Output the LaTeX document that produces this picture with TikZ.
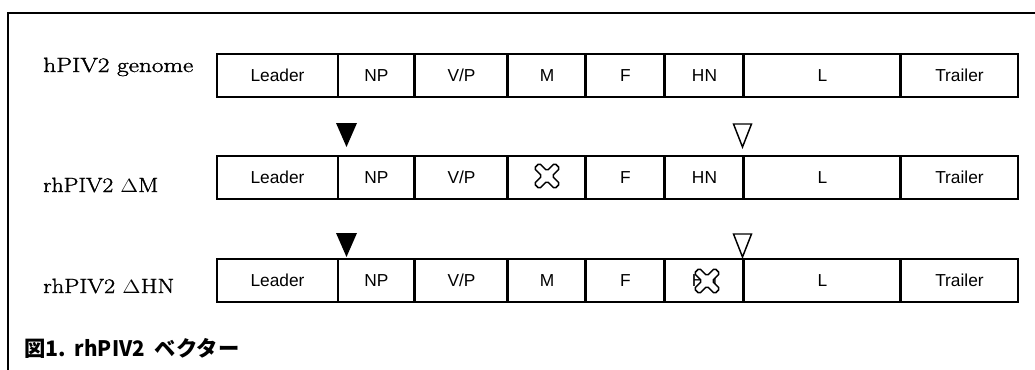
\documentclass[tikz,border=0pt]{standalone}
\usepackage{fontspec}
\usepackage{graphicx}
\newfontfamily\sansf{Liberation Sans}
\newfontfamily\cjk{Noto Sans CJK JP}
\newfontfamily\labserif{Latin Modern Roman}[FakeBold=1.3]
\tikzset{
  cell/.style={draw, line width=0.9pt, inner sep=0pt, minimum height=32.25pt,
    font=\sansf\fontsize{13}{15}\selectfont, text height=9.3pt, text depth=0pt},
  divider/.style={line width=1.7pt},
  rowlab/.style={anchor=base west, inner sep=0pt, font=\labserif\fontsize{15.5}{18}\selectfont},
  frame/.style={line width=1.1pt},
  xmark/.pic={\draw[line width=1.1pt, fill=white, rounded corners=1.3pt, rotate=45]
     (3.6,14.5) -- (3.6,3.6) -- (14.5,3.6) -- (14.5,-3.6) -- (3.6,-3.6) -- (3.6,-14.5) -- (-3.6,-14.5) -- (-3.6,-3.6)
     -- (-14.5,-3.6) -- (-14.5,3.6) -- (-3.6,3.6) -- (-3.6,14.5) -- cycle;}
}
\newcommand\gcell[5]{\node[cell, minimum width={(#3-#2)*0.75pt}] (#1) at ({(#2+#3)/2},{#4+21.5}) {#5};}
\newcommand\genomerow[4]{%
  \gcell{#1-leader}{217}{338}{#2}{Leader}
  \gcell{#1-np}{338}{415}{#2}{NP}
  \gcell{#1-vp}{415}{508}{#2}{V/P}
  \gcell{#1-m}{508}{586}{#2}{#3}
  \gcell{#1-f}{586}{665}{#2}{F}
  \gcell{#1-hn}{665}{744}{#2}{#4}
  \gcell{#1-l}{744}{901}{#2}{L}
  \gcell{#1-tr}{901}{1018}{#2}{Trailer}
  \foreach \c in {vp,m,f,hn,l,tr}{\draw[divider] (#1-\c.north west) -- (#1-\c.south west);}
}
\begin{document}
\begin{tikzpicture}[x=0.75pt, y=-0.75pt]
\useasboundingbox (0,0) rectangle (1035,369);
\fill[white] (0,0) rectangle (1035,369);
\draw[frame] (8,372) -- (8,13) -- (1038,13);

% rows
\genomerow{a}{54}{M}{HN}
\genomerow{b}{156}{}{HN}
\genomerow{c}{259}{M}{HN}

% deletion marks
\pic at (547,176) {xmark};
\pic at (707,281) {xmark};

% row labels
\node[rowlab] (la) at (43,72) {\resizebox{112.5pt}{\height}{hPIV2 genome}};
\node[rowlab] (lb) at (43,192) {\resizebox{86.25pt}{\height}{rhPIV2 $\Delta$M}};
\node[rowlab] (lc) at (43,293) {\resizebox{98.25pt}{\height}{rhPIV2 $\Delta$HN}};

% insertion sites
\fill (336,123) -- (357,123) -- (346.5,147) -- cycle;
\fill (336,233) -- (357,233) -- (346.5,257) -- cycle;
\draw[line width=1.1pt, fill=white, line join=miter] (733.5,124) -- (751.5,124) -- (742.5,147) -- cycle;
\draw[line width=1.1pt, fill=white, line join=miter] (733.5,234) -- (751.5,234) -- (742.5,257) -- cycle;

% caption
\node[anchor=base west, inner sep=0pt, font=\cjk\bfseries\fontsize{16}{18}\selectfont] (cap) at (24,356)
  {\makebox[38pt][l]{図1.}\makebox[60pt][l]{\resizebox{52.5pt}{\height}{rhPIV2}}ベクター};
\end{tikzpicture}
\end{document}
